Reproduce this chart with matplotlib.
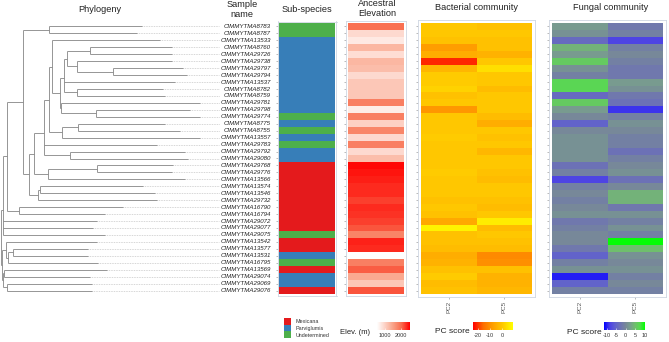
import numpy as np
import matplotlib.pyplot as plt
from collections import defaultdict
from matplotlib.colors import ListedColormap, LinearSegmentedColormap, Normalize, TwoSlopeNorm
from matplotlib.patches import Rectangle

plt.rcParams['font.family'] = ['Liberation Sans', 'DejaVu Sans']

# ---- data ----
samples = ['CIMMYTMA8783', 'CIMMYTMA8787', 'CIMMYTMA13533', 'CIMMYTMA8760', 'CIMMYTMA29726',
           'CIMMYTMA29738', 'CIMMYTMA29797', 'CIMMYTMA29794', 'CIMMYTMA13537', 'CIMMYTMA8782',
           'CIMMYTMA8759', 'CIMMYTMA29781', 'CIMMYTMA29798', 'CIMMYTMA29774', 'CIMMYTMA8775',
           'CIMMYTMA8755', 'CIMMYTMA13557', 'CIMMYTMA29783', 'CIMMYTMA29792', 'CIMMYTMA29080',
           'CIMMYTMA29768', 'CIMMYTMA29776', 'CIMMYTMA13566', 'CIMMYTMA13574', 'CIMMYTMA13546',
           'CIMMYTMA29732', 'CIMMYTMA16790', 'CIMMYTMA16794', 'CIMMYTMA29072', 'CIMMYTMA29077',
           'CIMMYTMA29075', 'CIMMYTMA13542', 'CIMMYTMA13577', 'CIMMYTMA13531', 'CIMMYTMA16795',
           'CIMMYTMA13569', 'CIMMYTMA29074', 'CIMMYTMA29069', 'CIMMYTMA29076']

# U = Undetermined, P = Parviglumis, M = Mexicana
subspecies = ['U', 'U', 'P', 'P', 'P', 'P', 'P', 'P', 'P', 'P',
              'P', 'P', 'P', 'U', 'P', 'U', 'P', 'U', 'P', 'P',
              'M', 'M', 'M', 'M', 'M', 'M', 'M', 'M', 'M', 'M',
              'U', 'M', 'M', 'P', 'U', 'M', 'P', 'P', 'M']
sub_names = ['Mexicana', 'Parviglumis', 'Undetermined']
sub_codes = ['M', 'P', 'U']
sub_colors = ['#e41a1c', '#377eb8', '#4daf4a']

elevation = [2000, 915, 750, 1290, 875, 1290, 1230, 915, 1125, 1125,
             1125, 1850, 710, 1850, 1020, 1790, 915, 1850, 915, 1230,
             2540, 2480, 2430, 2370, 2370, 2270, 2370, 2330, 2270, 2160,
             1800, 2410, 2370, 500, 1850, 2120, 1440, 1125, 2160]

bact_pc2 = [0, 0, -1, -8, -5, -21, -3, 1, 1, 2,
            -1, 0, -9, 0, 0, 0, 1, 0, 0, 0,
            0, 1, 0, 0, 0, -1, 0, -1, -6, 7,
            -1, -1, -2, -5, -4, -1, 1, -2, -1]
bact_pc5 = [-1, 0, -1, -1, -4, 0, 4, 0, 0, -2,
            0, 0, 0, -2, -5, 0, -1, 0, -3, 0,
            0, -1, -2, 0, 0, -1, -2, 0, 6, -2,
            0, -1, -2, -11, -10, -1, -4, -4, -3]

fung_pc2 = [2, 1, -4, 4, 2, 6, 1, -1, 7, 7,
            -4, 6, 2, 0, -5, 0, 1, 1, 1, 1,
            -3, -1, -8, -1, 0, -1, 0, 1, -2, -1,
            0, 0, -2, -5, -1, 1, -10, -5, -1]
fung_pc5 = [-2, -1, -8, -1, 0, -1, -2, -2, 2, 1,
            -2, -3, -9, -1, 1, 0, -1, -1, -3, -1,
            0, 1, -3, 0, 4, 4, -2, 1, -1, 1,
            -1, 10, 5, 1, 0, 1, -1, 0, -1]
pc_labels = ['PC2', 'PC5']

elev_ticks = [1000, 2000]
bact_ticks = [-20, -10, 0]
fung_ticks = [-10, -5, 0, 5, 10]

# tree as (child, parent, branch length); 'R' is the root
tree_root_depth = 1.0
tree_edges = [
    ('A', 'R', 1.7), ('B', 'R', 1.0),
    ('U', 'A', 4.6), ('CIMMYTMA29072', 'A', 94.3), ('CIMMYTMA29077', 'A', 90.3),
    ('CIMMYTMA29075', 'A', 102.3),
    ('N68', 'U', 15.4), ('N57', 'U', 11.7),
    ('N12', 'N68', 26.6), ('N88', 'N68', 6.6),
    ('CIMMYTMA8783', 'N12', 92.7), ('CIMMYTMA8787', 'N12', 87.7),
    ('N103', 'N88', 5.0), ('N113', 'N88', 8.4),
    ('N133', 'N103', 10.0), ('N145', 'N103', 14.0),
    ('Nup', 'N133', 5.0), ('CIMMYTMA29783', 'N133', 112.7), ('N210', 'N133', 25.7),
    ('N155', 'Nup', 2.4), ('N185', 'Nup', 12.4),
    ('CIMMYTMA13533', 'N155', 108.3), ('Nrest', 'N155', 8.3),
    ('N193', 'Nrest', 4.3), ('N180', 'Nrest', 0.5),
    ('N200', 'N193', 2.4), ('CIMMYTMA13537', 'N193', 110.7), ('N232', 'N193', 13.0),
    ('N270', 'N200', 23.3), ('N230', 'N200', 10.0),
    ('CIMMYTMA8760', 'N270', 82.0), ('CIMMYTMA29726', 'N270', 82.0),
    ('CIMMYTMA29738', 'N230', 95.3), ('N338', 'N230', 36.0),
    ('CIMMYTMA29797', 'N338', 70.3), ('CIMMYTMA29794', 'N338', 74.3),
    ('CIMMYTMA8782', 'N232', 85.7), ('CIMMYTMA8759', 'N232', 87.7),
    ('CIMMYTMA29781', 'N180', 139.5), ('N288', 'N180', 35.5),
    ('CIMMYTMA29798', 'N288', 94.0), ('CIMMYTMA29774', 'N288', 104.0),
    ('N235', 'N185', 16.6), ('CIMMYTMA13557', 'N185', 138.3),
    ('CIMMYTMA8775', 'N235', 86.7), ('CIMMYTMA8755', 'N235', 101.7),
    ('CIMMYTMA29792', 'N210', 115.0), ('CIMMYTMA29080', 'N210', 118.0),
    ('N290', 'N145', 48.4), ('CIMMYTMA13566', 'N145', 136.7),
    ('CIMMYTMA29768', 'N290', 76.3), ('CIMMYTMA29776', 'N290', 75.3),
    ('N120', 'N113', 2.3), ('CIMMYTMA29732', 'N113', 119.3),
    ('CIMMYTMA13574', 'N120', 103.0), ('CIMMYTMA13546', 'N120', 115.0),
    ('CIMMYTMA16790', 'N57', 104.0), ('CIMMYTMA16794', 'N57', 86.0),
    ('N6', 'B', 4.0), ('N3', 'B', 1.0),
    ('CIMMYTMA13542', 'N6', 91.0), ('N8', 'N6', 2.3),
    ('N12b', 'N8', 4.4), ('CIMMYTMA16795', 'N8', 89.7),
    ('CIMMYTMA13577', 'N12b', 75.3), ('CIMMYTMA13531', 'N12b', 75.3),
    ('N4', 'N3', 1.0), ('N7', 'N3', 4.3),
    ('CIMMYTMA13569', 'N4', 103.0), ('CIMMYTMA29074', 'N4', 86.0),
    ('CIMMYTMA29069', 'N7', 84.7), ('CIMMYTMA29076', 'N7', 84.7),
]

# ---- layout helpers (pixel based) ----
W, H = 669, 342
fig = plt.figure(figsize=(W / 100, H / 100), dpi=100)
n = len(samples)
ROW_TOP, ROW_BOT = 23.0, 294.0
rh = (ROW_BOT - ROW_TOP) / n


def px_axes(x0, y0, x1, y1):
    return fig.add_axes([x0 / W, 1 - y1 / H, (x1 - x0) / W, (y1 - y0) / H])


def ftext(x, y, s, **kw):
    kw.setdefault('ha', 'center')
    kw.setdefault('va', 'center')
    fig.text(x / W, 1 - y / H, s, **kw)


def panel(cx0, cx1, data, cmap, norm, xlabels=None, pad=2.0):
    data = np.asarray(data, dtype=float)
    ncol = data.shape[1]
    ax = px_axes(cx0 - pad, ROW_TOP - pad, cx1 + pad, ROW_BOT + pad)
    ax.pcolormesh(np.arange(ncol + 1) - 0.5, np.arange(n + 1) - 0.5, data,
                  cmap=cmap, norm=norm)
    cw = (cx1 - cx0) / ncol
    ax.set_xlim(-0.5 - pad / cw, ncol - 0.5 + pad / cw)
    ax.set_ylim(n - 0.5 + pad / rh, -0.5 - pad / rh)
    for sp in ax.spines.values():
        sp.set_color('#cfd6e2')
        sp.set_linewidth(0.6)
    ax.set_yticks(range(n))
    ax.set_yticklabels([])
    ax.tick_params(axis='y', length=1.6, width=0.4, color='#888888')
    if xlabels:
        ax.set_xticks(range(ncol))
        ax.set_xticklabels(xlabels, rotation=90, fontsize=4.5, color='#555555')
        ax.tick_params(axis='x', length=1.6, width=0.4, color='#888888', pad=1.5)
    else:
        ax.set_xticks([])
    return ax


def colorbar(x0, x1, cmap, norm, vmin, vmax, ticks):
    cax = px_axes(x0, 322, x1, 330)
    vals = np.linspace(vmin, vmax, 300)
    cax.imshow(vals[None, :], cmap=cmap, norm=norm, aspect='auto',
               extent=(vmin, vmax, 0, 1), interpolation='bilinear')
    cax.set_xlim(vmin, vmax)
    cax.set_xticks(ticks)
    cax.set_xticklabels([str(t) for t in ticks])
    cax.set_yticks([])
    for sp in cax.spines.values():
        sp.set_visible(False)
    cax.tick_params(axis='x', length=1.5, width=0.4, color='white',
                    direction='in', pad=2.2, labelsize=4, labelcolor='#333333')
    return cax


# ---- tree ----
children = defaultdict(list)
branch = {}
for child, parent, length in tree_edges:
    children[parent].append(child)
    branch[child] = length
row_of = {s: i for i, s in enumerate(samples)}

tax = px_axes(0, ROW_TOP, 272, ROW_BOT)
tax.set_xlim(0, 272)
tax.set_ylim(n - 0.5, -0.5)
tax.axis('off')
LINE = dict(color='#858585', lw=0.6, solid_capstyle='butt')
LABEL_START = 219


def draw(node, x):
    if node not in children:
        y = row_of[node]
        tax.plot([x, LABEL_START], [y, y], color='#b0b0b0', lw=0.5,
                 linestyle=(0, (1, 1.4)))
        tax.text(271, y, node, ha='right', va='center', fontsize=4.4,
                 style='italic', color='#222222')
        return y
    ys = []
    for c in children[node]:
        cx = x + branch[c]
        cy = draw(c, cx)
        tax.plot([x, cx], [cy, cy], **LINE)
        ys.append(cy)
    tax.plot([x, x], [min(ys), max(ys)], **LINE)
    return float(np.mean(ys))


draw('R', tree_root_depth)

# ---- sub-species ----
sub_idx = [[sub_codes.index(s)] for s in subspecies]
panel(279, 335, sub_idx, ListedColormap(sub_colors), Normalize(-0.5, 2.5), pad=1.5)

# ---- elevation ----
elev_min, elev_max = 500, 2580
elev_cmap = LinearSegmentedColormap.from_list(
    'elev', ['#ffffff', '#fdd0c3', '#f9a084', '#f96a4c', '#ff0000'])
elev_norm = Normalize(elev_min, elev_max)
panel(348.3, 404, [[v] for v in elevation], elev_cmap, elev_norm, pad=2.3)

# ---- bacterial ----
bact_min, bact_max = -24, 9
bact_cmap = LinearSegmentedColormap.from_list(
    'bact', ['#ff0000', '#fd6d00', '#ffa000', '#ffca00', '#ffff00'])
bact_norm = Normalize(bact_min, bact_max)
panel(421, 532, np.column_stack([bact_pc2, bact_pc5]), bact_cmap, bact_norm,
      xlabels=pc_labels, pad=3)

# ---- fungal ----
fung_min, fung_max = -11.4, 10.2
fung_cmap = LinearSegmentedColormap.from_list(
    'fung', ['#0000ff', '#4a3ee8', '#5f5fd0', '#6d72b5', '#778899',
             '#78a08c', '#6fbf6c', '#53de4c', '#00ff00'])
fung_norm = TwoSlopeNorm(0, fung_min, fung_max)
panel(551.7, 663.3, np.column_stack([fung_pc2, fung_pc5]), fung_cmap, fung_norm,
      xlabels=pc_labels, pad=3)

# ---- titles ----
TITLE = dict(fontsize=6.6, color='#222222', linespacing=1.2)
ftext(100, 10, 'Phylogeny', **TITLE)
ftext(242, 9.5, 'Sample\nname', **TITLE)
ftext(307, 10, 'Sub-species', **TITLE)
ftext(377, 8.5, 'Ancestral\nElevation', **TITLE)
ftext(477, 7.5, 'Bacterial community', **TITLE)
ftext(611, 7.5, 'Fungal community', **TITLE)

# ---- legends ----
lax = px_axes(280, 314, 340, 342)
lax.set_xlim(280, 340)
lax.set_ylim(342, 314)
lax.axis('off')
for i, (name, col) in enumerate(zip(sub_names, sub_colors)):
    lax.add_patch(Rectangle((284, 318 + i * 6.7), 6.5, 6.7, color=col, lw=0))
    lax.text(296, 321.5 + i * 6.9, name, fontsize=3.9, va='center', color='#333333')

ftext(354.5, 332, 'Elev. (m)', fontsize=5.5, color='#222222')
colorbar(377, 410, elev_cmap, elev_norm, elev_min, elev_max, elev_ticks)
ftext(452, 331.5, 'PC score', fontsize=6, color='#222222')
colorbar(473, 513, bact_cmap, bact_norm, bact_min, bact_max, bact_ticks)
ftext(584.5, 332, 'PC score', fontsize=6, color='#222222')
colorbar(604, 645, fung_cmap, fung_norm, fung_min, fung_max, fung_ticks)

fig.savefig('out.png', dpi=100)
